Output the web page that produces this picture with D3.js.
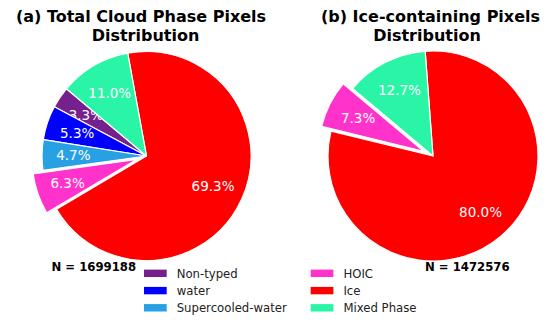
<!DOCTYPE html>
<html>
<head>
<meta charset="utf-8">
<script src="https://cdn.jsdelivr.net/npm/d3@7/dist/d3.min.js"></script>
<style>
  html, body { margin: 0; padding: 0; background: #fff; }
  svg { display: block; font-family: "DejaVu Sans", sans-serif; }
</style>
</head>
<body>
<svg id="chart" width="551" height="320"></svg>
<script>
// Phase categories and colours
const phaseNames = ["Non-typed", "water", "Supercooled-water", "HOIC", "Ice", "Mixed Phase"];
const phaseColors = ["#76208e", "#0000ff", "#27a0e4", "#ff33cc", "#ff0000", "#2af5a6"];

// (a) all cloud-phase pixels, percent
const totalLabels = ["Non-typed", "water", "Supercooled-water", "HOIC", "Ice", "Mixed Phase"];
const totalValues = [3.3, 5.3, 4.7, 6.3, 69.3, 11.0];
const totalN = 1699188;

// (b) ice-containing pixels, percent
const iceLabels = ["HOIC", "Ice", "Mixed Phase"];
const iceValues = [7.3, 80.0, 12.7];
const iceN = 1472576;

const explodedLabel = "HOIC";

const svg = d3.select("#chart");
const color = d3.scaleOrdinal().domain(phaseNames).range(phaseColors);
const deg = Math.PI / 180;

function drawPie(cfg) {
  const r = cfg.r;
  const g = svg.append("g").attr("transform", `translate(${cfg.cx},${cfg.cy})`);
  // counter-clockwise, first wedge starting at 140° from the +x axis
  const pie = d3.pie().sort(null).value(d => d.v)
    .startAngle((90 - 140) * deg).endAngle((90 - 140 - 360) * deg);
  const arc = d3.arc().innerRadius(0).outerRadius(r);
  const labelArc = d3.arc().innerRadius(r * 0.7).outerRadius(r * 0.7);
  const data = cfg.labels.map((k, i) => ({ k, v: cfg.values[i] }));
  const arcs = pie(data);

  const offset = d => {
    if (d.data.k !== explodedLabel) return [0, 0];
    const a = (d.startAngle + d.endAngle) / 2;
    return [Math.sin(a) * r * 0.1, -Math.cos(a) * r * 0.1];
  };

  const slices = g.selectAll("g.slice").data(arcs).enter().append("g")
    .attr("class", "slice")
    .attr("transform", d => `translate(${offset(d)})`);

  slices.append("path")
    .attr("d", arc)
    .attr("fill", d => color(d.data.k))
    .attr("stroke", "#ffffff")
    .attr("stroke-width", 1.2)
    .attr("stroke-linejoin", "round");

  slices.append("text")
    .attr("transform", d => `translate(${labelArc.centroid(d)})`)
    .attr("text-anchor", "middle")
    .attr("dy", "0.36em")
    .attr("fill", "#ffffff")
    .style("font-size", "13.5px")
    .text(d => d.data.v.toFixed(1) + "%");

  // title, two centred lines
  const t = svg.append("text")
    .attr("text-anchor", "middle")
    .style("font-size", "16px")
    .style("font-weight", "bold")
    .attr("fill", "#000");
  t.append("tspan").attr("x", cfg.t1x).attr("y", 22).text(cfg.title[0]);
  t.append("tspan").attr("x", cfg.t2x).attr("y", 41).text(cfg.title[1]);

  svg.append("text")
    .attr("x", cfg.nx).attr("y", 270.5)
    .style("font-size", "11.7px")
    .style("font-weight", "bold")
    .attr("fill", "#000")
    .text("N = " + cfg.n);
}

drawPie({
  cx: 146.5, cy: 156, r: 104.5,
  labels: totalLabels, values: totalValues, n: totalN,
  title: ["(a) Total Cloud Phase Pixels", "Distribution"],
  t1x: 141, t2x: 145.5, nx: 51.5
});

drawPie({
  cx: 433, cy: 156, r: 105,
  labels: iceLabels, values: iceValues, n: iceN,
  title: ["(b) Ice-containing Pixels", "Distribution"],
  t1x: 430.5, t2x: 427, nx: 425
});

// legend: two columns of three entries
const legendCols = [144, 310.7];
const legendRows = [273.3, 290.6, 307.8];
const legend = svg.append("g");
phaseNames.forEach((name, i) => {
  const x = legendCols[Math.floor(i / 3)];
  const y = legendRows[i % 3];
  legend.append("rect")
    .attr("x", x).attr("y", y - 3.7)
    .attr("width", 22.7).attr("height", 7.4)
    .attr("fill", color(name));
  legend.append("text")
    .attr("x", x + 32.7).attr("y", y)
    .attr("dy", "0.36em")
    .style("font-size", "11.7px")
    .attr("fill", "#222")
    .text(name);
});
</script>
</body>
</html>
